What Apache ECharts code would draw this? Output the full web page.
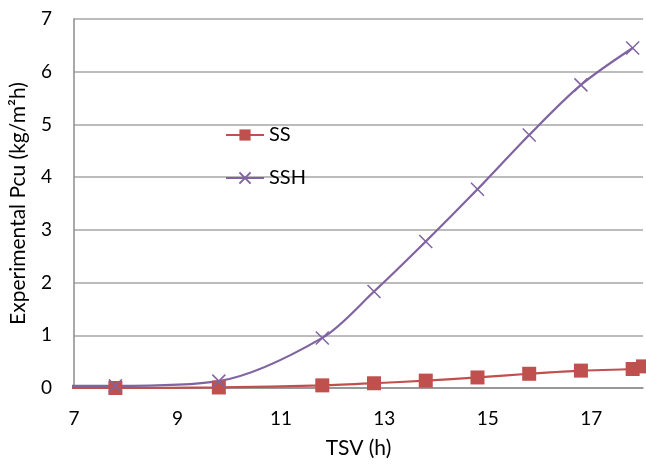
<!DOCTYPE html>
<html>
<head>
<meta charset="utf-8">
<script src="https://cdn.jsdelivr.net/npm/echarts@6/dist/echarts.min.js"></script>
<style>
  html, body { margin: 0; padding: 0; background: #fff; }
  #chart { width: 646px; height: 464px; }
</style>
</head>
<body>
<div id="chart"></div>
<script>
// data
var ssX = [5.8, 7.8, 9.8, 11.8, 12.8, 13.8, 14.8, 15.8, 16.8, 17.8, 18.0];
var ssY = [0, 0, 0.01, 0.05, 0.09, 0.14, 0.2, 0.27, 0.33, 0.36, 0.41];
var sshX = [5.8, 7.8, 9.8, 11.8, 12.8, 13.8, 14.8, 15.8, 16.8, 17.8];
var sshY = [0.04, 0.04, 0.13, 0.95, 1.83, 2.78, 3.77, 4.8, 5.75, 6.45];
var xTicks = [7, 9, 11, 13, 15, 17];

var font = 'Lato, "Open Sans", sans-serif';
var axisGray = '#8c8c8c';

var pairs = function (xs, ys) {
  return xs.map(function (x, i) { return [x, ys[i]]; });
};

var myChart = echarts.init(document.getElementById('chart'));
myChart.setOption({
  animation: false,
  grid: { left: 73, right: 3, top: 19, bottom: 73 },
  legend: {
    orient: 'vertical',
    left: 220,
    top: 120,
    itemWidth: 38,
    itemHeight: 14,
    itemGap: 23,
    textStyle: { fontFamily: font, fontSize: 20, color: '#000' },
    data: ['SS', 'SSH']
  },
  xAxis: {
    type: 'value',
    min: 7,
    max: 18,
    interval: 2,
    name: 'TSV (h)',
    nameLocation: 'middle',
    nameGap: 50,
    nameTextStyle: { fontFamily: font, fontSize: 21, color: '#000' },
    axisLine: { show: true, lineStyle: { color: axisGray, width: 1.5 } },
    axisTick: { show: false },
    splitLine: { show: false },
    axisLabel: {
      fontFamily: font, fontSize: 19, color: '#000', margin: 21,
      showMaxLabel: false,
      formatter: function (v) { return xTicks.indexOf(v) >= 0 ? String(v) : ''; }
    }
  },
  yAxis: {
    type: 'value',
    min: 0,
    max: 7,
    interval: 1,
    name: 'Experimental Pcu (kg/m²h)',
    nameLocation: 'middle',
    nameGap: 45,
    nameTextStyle: { fontFamily: font, fontSize: 21, color: '#000' },
    axisLine: { show: true, lineStyle: { color: axisGray, width: 1.5 } },
    axisTick: { show: false },
    splitLine: { show: true, lineStyle: { color: '#a6a6a6', width: 1.5 } },
    axisLabel: { fontFamily: font, fontSize: 19, color: '#000', margin: 22 }
  },
  series: [
    {
      name: 'SS',
      type: 'line',
      smooth: 0.3,
      clip: true,
      data: pairs(ssX, ssY),
      symbol: 'rect',
      symbolSize: 14,
      lineStyle: { color: '#C0504D', width: 2.2 },
      itemStyle: { color: '#C0504D' }
    },
    {
      name: 'SSH',
      type: 'line',
      smooth: 0.3,
      clip: true,
      data: pairs(sshX, sshY),
      symbol: 'path://M0,0L10,10M10,0L0,10',
      symbolSize: 13,
      lineStyle: { color: '#8064A2', width: 2.2 },
      itemStyle: { color: 'none', borderColor: '#8064A2', borderWidth: 1.5 }
    }
  ]
});
</script>
</body>
</html>
